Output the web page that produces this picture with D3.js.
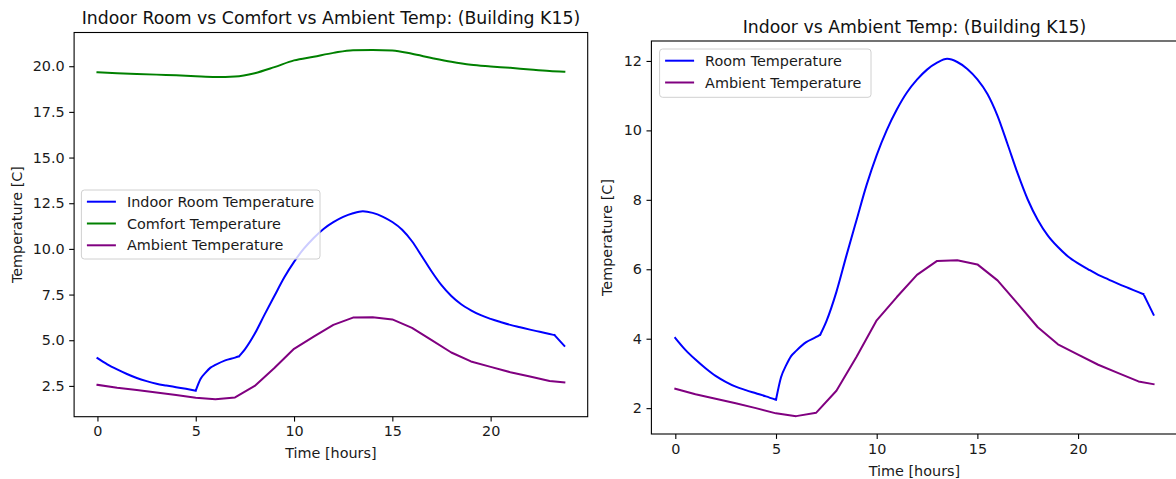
<!DOCTYPE html>
<html>
<head>
<meta charset="utf-8">
<script src="https://cdn.jsdelivr.net/npm/d3@7"></script>
<style>
  html, body { margin: 0; padding: 0; background: #fff; }
  svg { display: block; font-family: "DejaVu Sans", sans-serif; }
</style>
</head>
<body>
<svg id="chart" width="1176" height="479"></svg>
<script>
// ---------- data ----------
const roomHours = [0, 0.5, 1, 1.5, 2, 2.5, 3, 3.5, 4, 4.5, 5, 5.25, 5.5, 5.75, 6, 6.5, 7, 7.2, 7.5, 8, 8.5, 9, 9.5, 10, 10.5, 11, 11.5, 12, 12.5, 13, 13.5, 14, 14.5, 15, 15.5, 16, 16.5, 17, 17.5, 18, 18.5, 19, 19.5, 20, 20.5, 21, 21.5, 22, 22.5, 23, 23.25, 23.75];
const roomTemp = [4.02, 3.68, 3.40, 3.15, 2.93, 2.76, 2.62, 2.52, 2.43, 2.34, 2.24, 2.89, 3.23, 3.50, 3.65, 3.90, 4.05, 4.12, 4.50, 5.35, 6.40, 7.42, 8.43, 9.29, 10.01, 10.60, 11.09, 11.46, 11.75, 11.95, 12.06, 11.97, 11.77, 11.47, 11.05, 10.42, 9.60, 8.76, 8.01, 7.42, 6.97, 6.64, 6.37, 6.17, 6.00, 5.84, 5.71, 5.58, 5.46, 5.34, 5.28, 4.69];
// hours where the room curve has a sharp corner
const roomKinks = [5, 7.2, 23.25];

const ambientHours = [0, 1, 2, 3, 4, 5, 6, 7, 8, 9, 10, 11, 12, 13, 14, 15, 16, 17, 18, 19, 20, 21, 22, 23, 23.75];
const ambientTemp = [2.56, 2.40, 2.27, 2.14, 2.00, 1.85, 1.77, 1.87, 2.50, 3.48, 4.53, 5.20, 5.84, 6.24, 6.26, 6.14, 5.68, 5.01, 4.33, 3.84, 3.54, 3.25, 3.01, 2.77, 2.69];

const comfortHours = [0, 1, 2, 3, 4, 5, 6, 7, 8, 9, 10, 11, 12, 13, 14, 15, 16, 17, 18, 19, 20, 21, 22, 23, 23.75];
const comfortTemp = [19.67, 19.62, 19.58, 19.54, 19.50, 19.45, 19.41, 19.44, 19.62, 19.95, 20.32, 20.52, 20.73, 20.88, 20.89, 20.86, 20.68, 20.45, 20.24, 20.08, 19.99, 19.91, 19.82, 19.74, 19.70];

const xTicks = [0, 5, 10, 15, 20];
const leftYTicks = [2.5, 5.0, 7.5, 10.0, 12.5, 15.0, 17.5, 20.0];
const rightYTicks = [2, 4, 6, 8, 10, 12];

const leftTitle = "Indoor Room vs Comfort vs Ambient Temp: (Building K15)";
const rightTitle = "Indoor vs Ambient Temp: (Building K15)";
const xLabel = "Time [hours]";
const yLabel = "Temperature [C]";

// ---------- helpers ----------
const svg = d3.select("#chart");
const FS = 14.4;
const TFS = 17.3;

function zip(xs, ys) { return xs.map((x, i) => ({ x, y: ys[i] })); }
function padded(min, max) { const m = (max - min) * 0.05; return [min - m, max + m]; }
function splitAt(data, kinks) {
  if (!kinks || !kinks.length) return [data];
  const bounds = [data[0].x, ...kinks, data[data.length - 1].x];
  const segs = [];
  for (let i = 0; i < bounds.length - 1; i++) {
    segs.push(data.filter(d => d.x >= bounds[i] && d.x <= bounds[i + 1]));
  }
  return segs;
}

function panel(opts) {
  const { left, right, top, bottom, series, yTicks, yFmt, title, legend, ylabelX, xlabelY } = opts;
  const allX = series.flatMap(s => s.data.map(d => d.x));
  const allY = series.flatMap(s => s.data.map(d => d.y));
  const x = d3.scaleLinear().domain(padded(d3.min(allX), d3.max(allX))).range([left, right]);
  const y = d3.scaleLinear().domain(padded(d3.min(allY), d3.max(allY))).range([bottom, top]);

  const g = svg.append("g");

  const id = "clip" + Math.round(left);
  g.append("clipPath").attr("id", id).append("rect")
    .attr("x", left).attr("y", top).attr("width", right - left).attr("height", bottom - top);

  const plot = g.append("g").attr("clip-path", `url(#${id})`);
  series.forEach(s => {
    const segs = splitAt(s.data, s.kinks);
    const pts = [];
    segs.forEach(seg => {
      const line = d3.line().x(d => x(d.x)).y(d => y(d.y)).curve(seg.length > 2 ? (s.curve || d3.curveLinear) : d3.curveLinear);
      pts.push(line(seg));
    });
    plot.append("path")
      .attr("fill", "none").attr("stroke", s.color).attr("stroke-width", 2)
      .attr("stroke-linejoin", "round").attr("stroke-linecap", "square")
      .attr("d", pts.join(""));
  });

  const xAxis = d3.axisBottom(x).tickValues(xTicks).tickSize(4.9).tickPadding(4.5).tickFormat(d3.format("d"));
  const yAxis = d3.axisLeft(y).tickValues(yTicks).tickSize(4.9).tickPadding(4.5).tickFormat(yFmt);
  const gx = g.append("g").attr("transform", `translate(0,${bottom})`).call(xAxis);
  const gy = g.append("g").attr("transform", `translate(${left},0)`).call(yAxis);
  [gx, gy].forEach(a => {
    a.select(".domain").remove();
    a.selectAll("line").attr("stroke", "#000").attr("stroke-width", 1.1);
    a.selectAll("text").attr("fill", "#1a1a1a").style("font-size", FS + "px").style("font-family", "DejaVu Sans");
  });

  g.append("rect").attr("x", left).attr("y", top).attr("width", right - left).attr("height", bottom - top)
    .attr("fill", "none").attr("stroke", "#000").attr("stroke-width", 1.1);

  g.append("text").attr("x", (left + right) / 2).attr("y", top - 8.5)
    .attr("text-anchor", "middle").style("font-size", TFS + "px").attr("fill", "#111").text(title);
  g.append("text").attr("x", (left + right) / 2).attr("y", xlabelY)
    .attr("text-anchor", "middle").attr("dominant-baseline", "central")
    .style("font-size", FS + "px").attr("fill", "#1a1a1a").text(xLabel);
  g.append("text").attr("transform", `translate(${ylabelX},${(top + bottom) / 2}) rotate(-90)`)
    .attr("text-anchor", "middle").attr("dominant-baseline", "central")
    .style("font-size", FS + "px").attr("fill", "#1a1a1a").text(yLabel);

  const lg = g.append("g");
  lg.append("rect").attr("x", legend.x).attr("y", legend.y).attr("width", legend.w).attr("height", legend.h)
    .attr("rx", 3).attr("fill", "rgba(255,255,255,0.8)").attr("stroke", "#d0d0d0").attr("stroke-width", 1);
  series.forEach((s, i) => {
    const cy = legend.y + 11.7 + i * 21.8;
    lg.append("line").attr("x1", legend.x + 5.5).attr("x2", legend.x + 34.5).attr("y1", cy).attr("y2", cy)
      .attr("stroke", s.color).attr("stroke-width", 2);
    lg.append("text").attr("x", legend.x + 45.5).attr("y", cy).attr("dominant-baseline", "central")
      .style("font-size", FS + "px").attr("fill", "#1a1a1a").text(s.name);
  });
}

panel({
  left: 74.1, right: 587.7, top: 32.5, bottom: 416.7,
  series: [
    { name: "Indoor Room Temperature", color: "#0000ff", data: zip(roomHours, roomTemp), curve: d3.curveMonotoneX, kinks: roomKinks },
    { name: "Comfort Temperature", color: "#008000", data: zip(comfortHours, comfortTemp), curve: d3.curveMonotoneX },
    { name: "Ambient Temperature", color: "#800080", data: zip(ambientHours, ambientTemp) }
  ],
  yTicks: leftYTicks, yFmt: d3.format(".1f"),
  title: leftTitle,
  legend: { x: 81.4, y: 190, w: 238.6, h: 69 },
  ylabelX: 16.5, xlabelY: 453
});

panel({
  left: 651.4, right: 1177.5, top: 41, bottom: 434,
  series: [
    { name: "Room Temperature", color: "#0000ff", data: zip(roomHours, roomTemp), curve: d3.curveMonotoneX, kinks: roomKinks },
    { name: "Ambient Temperature", color: "#800080", data: zip(ambientHours, ambientTemp) }
  ],
  yTicks: rightYTicks, yFmt: d3.format("d"),
  title: rightTitle,
  legend: { x: 659.6, y: 49, w: 211.4, h: 48.3 },
  ylabelX: 607, xlabelY: 471
});
</script>
</body>
</html>
